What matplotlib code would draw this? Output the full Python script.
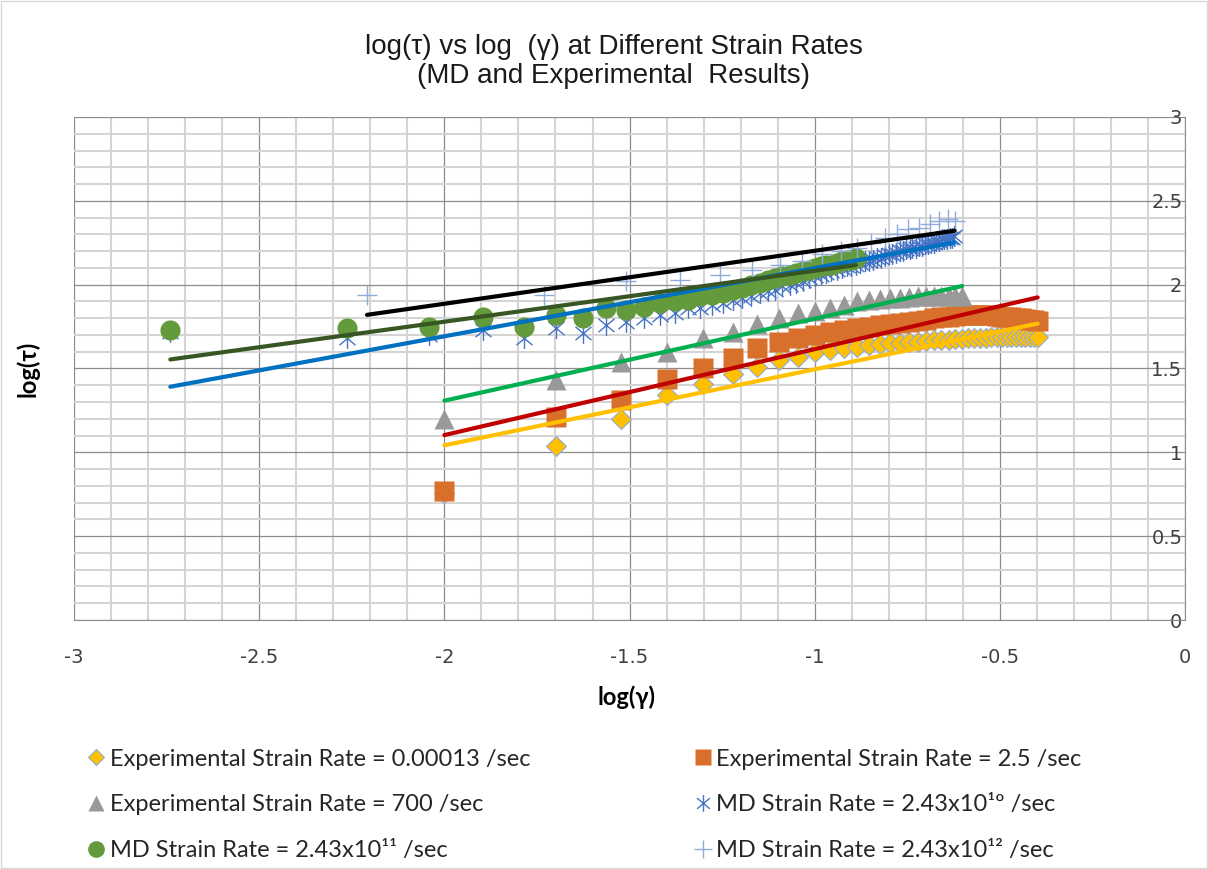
import numpy as np
import matplotlib
matplotlib.use("Agg")
import matplotlib.pyplot as plt   # noqa: E402
from matplotlib.lines import Line2D   # noqa: E402
from matplotlib.path import Path   # noqa: E402
from matplotlib.patches import Rectangle   # noqa: E402
from matplotlib.ticker import MultipleLocator   # noqa: E402

# experimental runs: log(strain), strain = 0.01 .. 0.40
exp_x = [-2.000, -1.699, -1.523, -1.398, -1.301, -1.222, -1.155, -1.097, -1.046, -1.000,
         -0.959, -0.921, -0.886, -0.854, -0.824, -0.796, -0.770, -0.745, -0.721, -0.699,
         -0.678, -0.658, -0.638, -0.620, -0.602, -0.585, -0.569, -0.553, -0.538, -0.523,
         -0.509, -0.495, -0.481, -0.469, -0.456, -0.444, -0.432, -0.420, -0.409, -0.398]
exp_slow_y = [0.76, 1.04, 1.20, 1.34, 1.41, 1.47, 1.51, 1.55, 1.57, 1.60,
              1.61, 1.62, 1.63, 1.64, 1.645, 1.65, 1.655, 1.66, 1.66, 1.665,
              1.67, 1.67, 1.67, 1.675, 1.675, 1.68, 1.68, 1.68, 1.68, 1.685,
              1.685, 1.685, 1.685, 1.69, 1.69, 1.69, 1.69, 1.69, 1.69, 1.69]
exp_mid_y = [0.77, 1.21, 1.31, 1.44, 1.50, 1.56, 1.62, 1.66, 1.68, 1.70,
             1.72, 1.73, 1.74, 1.75, 1.76, 1.765, 1.77, 1.78, 1.785, 1.79,
             1.80, 1.805, 1.81, 1.815, 1.82, 1.82, 1.82, 1.82, 1.82, 1.82,
             1.815, 1.81, 1.81, 1.805, 1.80, 1.80, 1.795, 1.79, 1.79, 1.785]
exp_fast_y = [1.20, 1.43, 1.54, 1.60, 1.68, 1.72, 1.765, 1.80, 1.83, 1.84,
              1.86, 1.88, 1.90, 1.91, 1.915, 1.92, 1.92, 1.925, 1.93, 1.93,
              1.93, 1.935, 1.935, 1.935, 1.93]

# MD runs: log(strain)
md_x = [-2.740, -2.263, -2.041, -1.895, -1.786, -1.699, -1.626, -1.564, -1.509, -1.461,
        -1.418, -1.378, -1.342, -1.309, -1.278, -1.249, -1.221, -1.196, -1.172, -1.149,
        -1.127, -1.106, -1.087, -1.068, -1.050, -1.032, -1.016, -1.000, -0.984, -0.969,
        -0.955, -0.941, -0.927, -0.914, -0.901, -0.889, -0.877, -0.865, -0.853, -0.842,
        -0.831, -0.821, -0.810, -0.800, -0.791, -0.781, -0.771, -0.762, -0.753, -0.744,
        -0.736, -0.727, -0.719, -0.711, -0.703, -0.695, -0.687, -0.679, -0.672, -0.664,
        -0.657, -0.650, -0.643, -0.636, -0.629, -0.623]
md10_y = [1.72, 1.68, 1.70, 1.73, 1.68, 1.74, 1.71, 1.76, 1.78, 1.80,
          1.82, 1.83, 1.86, 1.86, 1.88, 1.89, 1.91, 1.92, 1.93, 1.95,
          1.96, 1.97, 1.99, 2.00, 2.01, 2.02, 2.04, 2.05, 2.06, 2.07,
          2.08, 2.09, 2.10, 2.11, 2.11, 2.12, 2.13, 2.14, 2.14, 2.15,
          2.16, 2.16, 2.17, 2.18, 2.18, 2.19, 2.20, 2.20, 2.21, 2.21,
          2.22, 2.22, 2.23, 2.23, 2.24, 2.24, 2.25, 2.25, 2.26, 2.26,
          2.27, 2.27, 2.27, 2.28, 2.28, 2.29]
md11_y = [1.73, 1.74, 1.75, 1.81, 1.75, 1.82, 1.80, 1.86, 1.85, 1.865,
          1.89, 1.90, 1.91, 1.93, 1.94, 1.95, 1.97, 1.98, 2.00, 2.01,
          2.03, 2.04, 2.05, 2.06, 2.07, 2.08, 2.09, 2.10, 2.11, 2.12,
          2.12, 2.13, 2.14, 2.15, 2.15, 2.16]
md12_x = [-2.209, -1.732, -1.510, -1.364, -1.255, -1.168, -1.095, -1.033, -0.979, -0.930,
          -0.887, -0.847, -0.811, -0.778, -0.747, -0.718, -0.690, -0.665, -0.641, -0.622]
md12_y = [1.94, 1.94, 2.02, 2.03, 2.06, 2.09, 2.12, 2.14, 2.18, 2.20,
          2.22, 2.25, 2.28, 2.30, 2.33, 2.34, 2.36, 2.38, 2.39, 2.38]

# linear trendlines (slope, intercept) for each series
trend_slope = [0.453, 0.5125, 0.489, 0.4065, 0.304, 0.316]
trend_icpt = [1.948, 2.128, 2.286, 2.505, 2.387, 2.518]

labels = ["Experimental Strain Rate = 0.00013 /sec",
          "Experimental Strain Rate = 2.5 /sec",
          "Experimental Strain Rate = 700 /sec",
          "MD Strain Rate = 2.43x10\u00b9\u00ba /sec",
          "MD Strain Rate = 2.43x10\u00b9\u00b9 /sec",
          "MD Strain Rate = 2.43x10\u00b9\u00b2 /sec"]

# six-armed "star" marker: vertical bar plus an X
star = Path([(0, -1), (0, 1), (-0.77, -0.64), (0.77, 0.64), (-0.77, 0.64), (0.77, -0.64)],
            [Path.MOVETO, Path.LINETO] * 3)

styles = [
    dict(marker="D", ms=10.5, mfc="#FFC000", mec="#8FAADC", mew=0.8),
    dict(marker="s", ms=14, mfc="#D8702B", mec="none"),
    dict(marker="^", ms=15, mfc="#999999", mec="none"),
    dict(marker=star, ms=15, mfc="none", mec="#4472C4", mew=1.0),
    dict(marker="o", ms=14.5, mfc="#639A3B", mec="none"),
    dict(marker="+", ms=15, mfc="none", mec="#8FAADC", mew=1.0),
]
trend_colors = ["#FFC000", "#C00000", "#00B050", "#0070C0", "#375623", "#000000"]

series = [(exp_x, exp_slow_y), (exp_x, exp_mid_y), (exp_x[:len(exp_fast_y)], exp_fast_y),
          (md_x, md10_y), (md_x[:len(md11_y)], md11_y), (md12_x, md12_y)]

fig = plt.figure(figsize=(12.08, 8.69), dpi=100)
ax = fig.add_axes([0.0613, 0.2865, 0.9197, 0.5789])

for (x, y), st in zip(series, styles):
    ax.plot(x, y, linestyle="none", zorder=3, **st)

for (x, y), m, b, c in zip(series, trend_slope, trend_icpt, trend_colors):
    xs = np.array([min(x), max(x)])
    ax.plot(xs, m * xs + b, color=c, lw=3, solid_capstyle="round", zorder=4)

ax.set_xlim(-3, 0)
ax.set_ylim(0, 3)
ax.set_xticks(np.arange(-3, 0.01, 0.5))
ax.set_yticks(np.arange(0, 3.01, 0.5))
ax.xaxis.set_minor_locator(MultipleLocator(0.1))
ax.yaxis.set_minor_locator(MultipleLocator(0.1))
ax.set_xticklabels(["-3", "-2.5", "-2", "-1.5", "-1", "-0.5", "0"])
ax.set_yticklabels(["0", "0.5", "1", "1.5", "2", "2.5", "3"])
ax.grid(which="minor", color="#D4D4D4", lw=1.5)
ax.grid(which="major", color="#8C8C8C", lw=0.9)
ax.set_axisbelow(True)
for side in ("top", "left"):
    ax.spines[side].set_visible(False)
ax.spines["bottom"].set_color("#8C8C8C")
ax.spines["right"].set_color("#8C8C8C")

tick_font = ["Liberation Sans Narrow", "DejaVu Sans"]
ax.tick_params(axis="both", which="both", length=0)
ax.tick_params(axis="x", pad=20, labelsize=14)
ax.tick_params(axis="y", pad=-2, labelsize=14, labelleft=False, labelright=True)
for lbl in ax.get_xticklabels() + ax.get_yticklabels():
    lbl.set_family(tick_font)
    lbl.set_color("#404040")
for lbl in ax.get_yticklabels():
    lbl.set_horizontalalignment("right")

fig.text(0.508, 0.929, "log(\u03c4) vs log  (\u03b3) at Different Strain Rates\n(MD and Experimental  Results)",
         ha="center", va="center", fontsize=20, family=["Liberation Sans", "DejaVu Sans"],
         color="#1A1A1A", linespacing=1.15)
fig.text(0.023, 0.576, "log(\u03c4)", rotation=90, ha="center", va="center",
         fontsize=17, fontweight="bold", family=["Lato", "DejaVu Sans"])
fig.text(0.519, 0.198, "log(\u03b3)", ha="center", va="center",
         fontsize=17, fontweight="bold", family=["Lato", "DejaVu Sans"])

handles = [Line2D([], [], linestyle="none", **st) for st in styles]
for h, s in zip(handles, [8.5, 11.5, 11, 12, 12, 13]):
    h.set_markersize(s)
leg_font = {"family": ["Lato", "DejaVu Sans"], "size": 17}
for idx, x0 in ((0, 0.0615), (1, 0.5635)):
    fig.legend(handles=handles[idx::2], labels=labels[idx::2], loc="upper left",
               bbox_to_anchor=(x0, 0.152), frameon=False, prop=leg_font,
               handlelength=0.85, handletextpad=0.15, labelspacing=1.04, borderpad=0,
               labelcolor="#262626")

fig.patches.append(Rectangle((0.001, 0.001), 0.998, 0.998, transform=fig.transFigure,
                             fill=False, edgecolor="#D9D9D9", lw=1))

fig.savefig("out.png", dpi=100)
